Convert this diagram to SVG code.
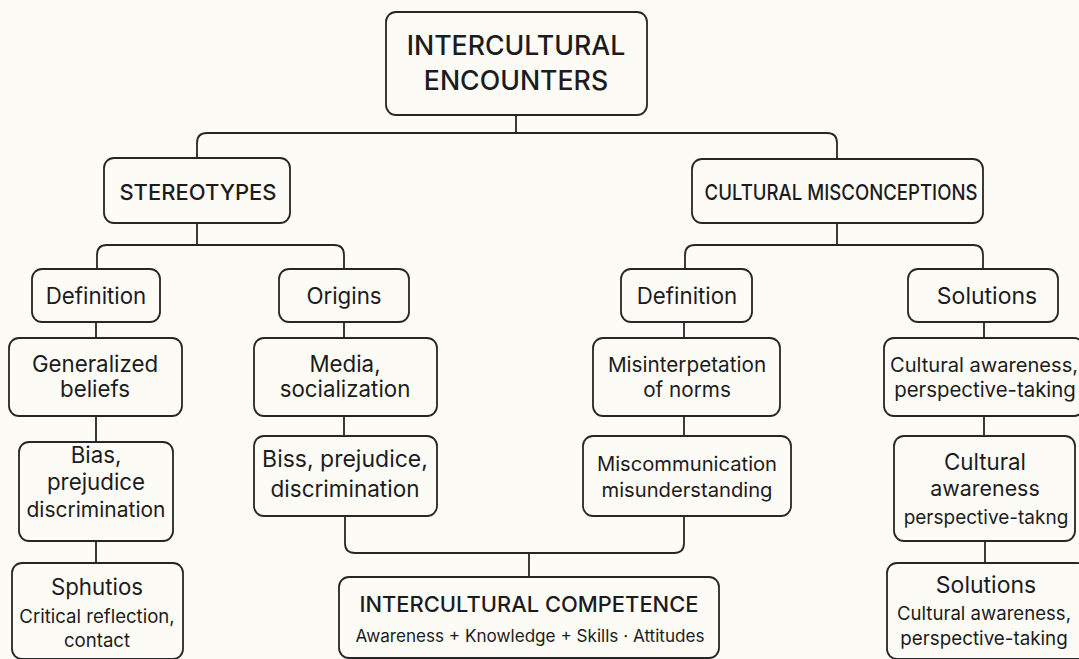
<svg xmlns="http://www.w3.org/2000/svg" width="1079" height="659" viewBox="0 0 1079 659">
<style>
.bg{fill:#fcfbf6}
.box{fill:#fcfbf6;stroke:#262626;stroke-width:1.8}
.ln{fill:none;stroke:#262626;stroke-width:1.8}
text{font-family:Inter,"Liberation Sans",sans-serif;fill:#1c1c1c;text-anchor:middle}
.h1{font-size:26.7px;font-weight:500}
.h2{font-size:22px;font-weight:500}
.t{font-size:22.3px}
.m{font-size:20.7px}
.s{font-size:18.6px}
</style>
<rect class="bg" x="0" y="0" width="1079" height="659"/>
<g id="connectors">
<path class="ln" d="M516,115 V133"/>
<path class="ln" d="M197,158 V143 Q197,133 207,133 H827 Q837,133 837,143 V159"/>
<path class="ln" d="M197,223 V245"/>
<path class="ln" d="M97,269 V255 Q97,245 107,245 H334 Q344,245 344,255 V269"/>
<path class="ln" d="M837,223 V245"/>
<path class="ln" d="M685,269 V255 Q685,245 695,245 H973 Q983,245 983,255 V269"/>
<path class="ln" d="M96,322 V338 M96,416 V442 M96,541 V563"/>
<path class="ln" d="M344,322 V338 M344,416 V436"/>
<path class="ln" d="M345,516 V543 Q345,553 355,553 H674 Q684,553 684,543 V516"/>
<path class="ln" d="M529,553 V577"/>
<path class="ln" d="M684,322 V338 M684,416 V436"/>
<path class="ln" d="M984,322 V338 M984,416 V436 M985,541 V563"/>
</g>
<g id="n-root"><rect class="box" x="386" y="12" width="261" height="103" rx="10"/>
<text class="h1" x="516" y="55">INTERCULTURAL</text><text class="h1" x="516" y="90">ENCOUNTERS</text></g>
<g id="n-stereo"><rect class="box" x="104" y="158" width="186" height="65" rx="10"/>
<text class="h2" x="198" y="200">STEREOTYPES</text></g>
<g id="n-cm"><rect class="box" x="692" y="159" width="291" height="64" rx="10"/>
<text class="h2" x="841" y="200" textLength="273" lengthAdjust="spacingAndGlyphs">CULTURAL MISCONCEPTIONS</text></g>
<g id="n-def1"><rect class="box" x="32" y="269" width="128" height="53" rx="10"/>
<text class="t" x="96" y="304">Definition</text></g>
<g id="n-orig"><rect class="box" x="279" y="269" width="130" height="53" rx="10"/>
<text class="t" x="344" y="304">Origins</text></g>
<g id="n-def2"><rect class="box" x="621" y="269" width="131" height="53" rx="10"/>
<text class="t" x="687" y="304">Definition</text></g>
<g id="n-sol1"><rect class="box" x="908" y="269" width="150" height="53" rx="10"/>
<text class="t" x="987" y="304" style="font-size:23px">Solutions</text></g>
<g id="n-gen"><rect class="box" x="9" y="338" width="173" height="78" rx="10"/>
<text class="t" x="95" y="372">Generalized</text><text class="t" x="95" y="397">beliefs</text></g>
<g id="n-media"><rect class="box" x="254" y="338" width="183" height="78" rx="10"/>
<text class="t" x="345" y="372">Media,</text><text class="t" x="345" y="397">socialization</text></g>
<g id="n-misint"><rect class="box" x="593" y="338" width="187" height="78" rx="10"/>
<text class="m" x="687" y="372">Misinterpetation</text><text class="m" x="687" y="397">of norms</text></g>
<g id="n-ca1"><rect class="box" x="884" y="338" width="200" height="78" rx="10"/>
<text x="984" y="372" style="font-size:20.1px">Cultural awareness,</text><text x="985" y="397" style="font-size:20.4px">perspective-taking</text></g>
<g id="n-bias"><rect class="box" x="19" y="442" width="154" height="99" rx="10"/>
<text class="t" x="96" y="463">Bias,</text><text class="t" x="96" y="490">prejudice</text><text x="96" y="517" style="font-size:21px">discrimination</text></g>
<g id="n-biss"><rect class="box" x="254" y="436" width="183" height="80" rx="10"/>
<text x="345" y="467" style="font-size:23px">Biss, prejudice,</text><text x="345" y="497" style="font-size:22.5px">discrimination</text></g>
<g id="n-miscomm"><rect class="box" x="583" y="436" width="208" height="80" rx="10"/>
<text x="687" y="471" style="font-size:20.2px">Miscommunication</text><text x="687" y="497" style="font-size:20.2px">misunderstanding</text></g>
<g id="n-ca2"><rect class="box" x="894" y="436" width="181" height="105" rx="10"/>
<text class="t" x="985" y="470">Cultural</text><text x="985" y="496" style="font-size:21.4px">awareness</text><text x="986" y="524" style="font-size:19px">perspective-takng</text></g>
<g id="n-sphu"><rect class="box" x="12" y="563" width="171" height="96" rx="10"/>
<text class="t" x="97" y="595">Sphutios</text><text class="s" x="97" y="623">Critical reflection,</text><text class="s" x="97" y="647">contact</text></g>
<g id="n-ic"><rect class="box" x="339" y="577" width="380" height="81" rx="10"/>
<text class="h2" x="529" y="612" textLength="339" lengthAdjust="spacingAndGlyphs">INTERCULTURAL COMPETENCE</text>
<text x="530" y="642" style="font-size:17px" textLength="349" lengthAdjust="spacingAndGlyphs">Awareness + Knowledge + Skills · Attitudes</text></g>
<g id="n-sol2"><rect class="box" x="887" y="563" width="200" height="96" rx="10"/>
<text x="986" y="593" style="font-size:23px">Solutions</text><text x="984" y="620" style="font-size:18.6px">Cultural awareness,</text><text x="984" y="645" style="font-size:18.8px">perspective-taking</text></g>
</svg>
